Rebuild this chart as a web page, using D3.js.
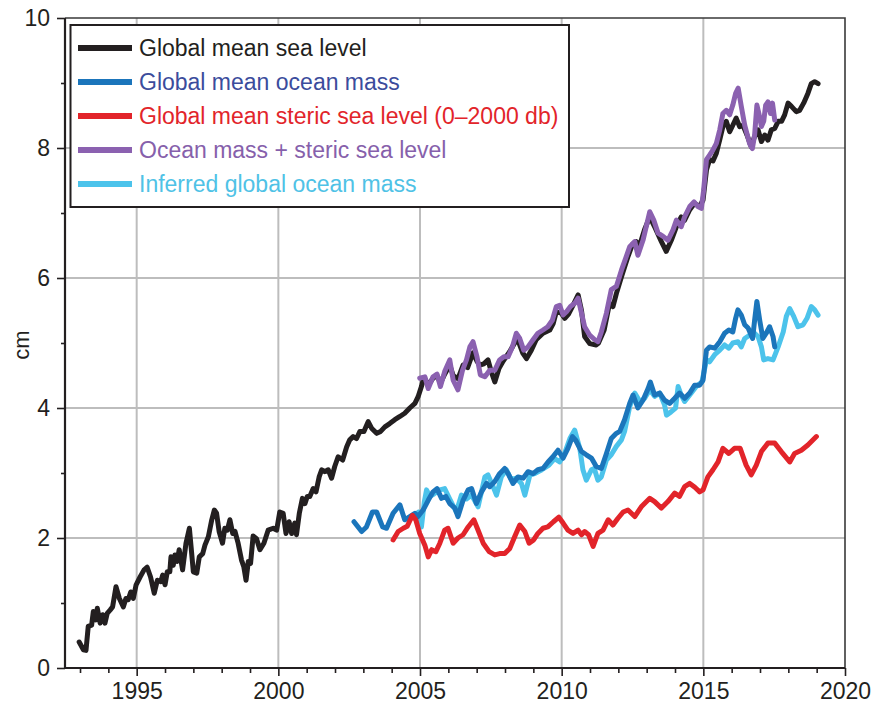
<!DOCTYPE html>
<html>
<head>
<meta charset="utf-8">
<script src="https://cdn.jsdelivr.net/npm/d3@7"></script>
<style>
  html, body { margin: 0; padding: 0; background: #fff; }
  svg { display: block; font-family: "Liberation Sans", Arial, Helvetica, sans-serif; }
</style>
</head>
<body>
<svg id="chart" width="871" height="706"></svg>
<script>
// Global mean sea level budget, cm (year, value)
const gmsl = [[1992.97,0.40],[1993.12,0.28],[1993.21,0.27],[1993.29,0.64],[1993.41,0.66],[1993.47,0.87],[1993.56,0.74],[1993.61,0.92],[1993.71,0.69],[1993.80,0.82],[1993.88,0.69],[1993.96,0.84],[1994.06,0.89],[1994.15,0.94],[1994.27,1.25],[1994.39,1.07],[1994.53,0.94],[1994.62,1.07],[1994.70,1.05],[1994.79,1.17],[1994.88,1.07],[1994.98,1.28],[1995.12,1.40],[1995.26,1.51],[1995.37,1.55],[1995.49,1.40],[1995.62,1.15],[1995.73,1.35],[1995.85,1.33],[1995.92,1.43],[1996.00,1.28],[1996.08,1.48],[1996.17,1.48],[1996.21,1.71],[1996.29,1.58],[1996.35,1.74],[1996.43,1.64],[1996.50,1.82],[1996.62,1.51],[1996.74,1.92],[1996.86,2.15],[1997.00,1.48],[1997.12,1.46],[1997.21,1.71],[1997.33,1.76],[1997.41,1.89],[1997.53,2.02],[1997.65,2.28],[1997.74,2.43],[1997.82,2.38],[1997.91,2.10],[1998.03,1.92],[1998.11,2.15],[1998.20,2.12],[1998.29,2.28],[1998.39,2.07],[1998.47,2.10],[1998.58,1.92],[1998.70,1.66],[1998.78,1.56],[1998.86,1.35],[1998.94,1.64],[1999.02,1.61],[1999.11,2.03],[1999.23,1.99],[1999.35,1.82],[1999.49,1.92],[1999.64,2.12],[1999.82,2.15],[1999.94,2.12],[2000.05,2.40],[2000.17,2.38],[2000.27,2.07],[2000.38,2.25],[2000.47,2.07],[2000.58,2.23],[2000.64,2.05],[2000.74,2.38],[2000.85,2.61],[2000.94,2.53],[2001.02,2.64],[2001.11,2.64],[2001.23,2.76],[2001.33,2.71],[2001.44,2.94],[2001.53,3.05],[2001.64,3.02],[2001.76,3.05],[2001.88,2.92],[2001.99,3.10],[2002.11,3.25],[2002.27,3.20],[2002.41,3.40],[2002.52,3.51],[2002.64,3.56],[2002.76,3.53],[2002.88,3.64],[2003.02,3.64],[2003.17,3.79],[2003.29,3.69],[2003.47,3.61],[2003.61,3.64],[2003.76,3.71],[2003.93,3.76],[2004.11,3.82],[2004.29,3.87],[2004.46,3.92],[2004.64,4.00],[2004.82,4.07],[2004.93,4.17],[2005.05,4.33],[2005.11,4.43],[2005.17,4.45],[2005.29,4.35],[2005.46,4.46],[2005.60,4.50],[2005.72,4.38],[2005.87,4.52],[2006.05,4.66],[2006.17,4.50],[2006.34,4.45],[2006.52,4.66],[2006.68,4.62],[2006.87,4.85],[2007.01,4.72],[2007.11,4.66],[2007.25,4.68],[2007.40,4.74],[2007.52,4.55],[2007.64,4.40],[2007.79,4.61],[2007.93,4.72],[2008.17,4.87],[2008.34,5.00],[2008.45,5.05],[2008.62,4.85],[2008.76,4.76],[2008.93,4.89],[2009.10,5.05],[2009.34,5.15],[2009.58,5.20],[2009.70,5.30],[2009.81,5.48],[2009.98,5.46],[2010.11,5.38],[2010.25,5.45],[2010.40,5.58],[2010.58,5.74],[2010.70,5.50],[2010.81,5.10],[2010.99,4.99],[2011.22,4.97],[2011.30,5.00],[2011.50,5.20],[2011.69,5.61],[2011.81,5.56],[2011.93,5.76],[2012.11,6.02],[2012.34,6.33],[2012.50,6.52],[2012.63,6.56],[2012.75,6.50],[2012.93,6.75],[2013.11,6.94],[2013.30,6.77],[2013.52,6.56],[2013.69,6.41],[2013.87,6.58],[2014.05,6.79],[2014.22,6.94],[2014.34,6.89],[2014.52,7.05],[2014.69,7.15],[2014.87,7.10],[2014.99,7.20],[2015.11,7.66],[2015.22,7.82],[2015.34,7.80],[2015.46,7.92],[2015.58,8.13],[2015.69,8.33],[2015.81,8.41],[2015.93,8.25],[2016.04,8.35],[2016.16,8.46],[2016.28,8.33],[2016.40,8.35],[2016.54,8.20],[2016.69,8.02],[2016.81,8.18],[2016.93,8.28],[2017.05,8.10],[2017.17,8.20],[2017.28,8.12],[2017.40,8.28],[2017.52,8.30],[2017.64,8.41],[2017.76,8.41],[2017.87,8.51],[2017.99,8.69],[2018.11,8.64],[2018.28,8.56],[2018.40,8.58],[2018.54,8.69],[2018.69,8.84],[2018.81,8.99],[2018.93,9.02],[2019.05,8.99]];

const oceanMass = [[2002.67,2.25],[2002.94,2.10],[2003.11,2.17],[2003.32,2.40],[2003.47,2.40],[2003.68,2.17],[2003.82,2.15],[2004.05,2.38],[2004.29,2.51],[2004.46,2.28],[2004.64,2.33],[2004.82,2.38],[2004.93,2.33],[2005.11,2.43],[2005.29,2.58],[2005.46,2.71],[2005.60,2.76],[2005.76,2.61],[2005.91,2.64],[2006.05,2.53],[2006.23,2.46],[2006.34,2.33],[2006.52,2.58],[2006.70,2.74],[2006.82,2.76],[2006.99,2.53],[2007.17,2.71],[2007.35,2.84],[2007.46,2.79],[2007.64,2.87],[2007.81,2.99],[2007.99,3.07],[2008.11,2.99],[2008.28,2.84],[2008.46,2.94],[2008.64,2.92],[2008.81,3.02],[2008.99,2.99],[2009.16,3.05],[2009.34,3.07],[2009.52,3.17],[2009.69,3.25],[2009.87,3.35],[2010.05,3.23],[2010.22,3.38],[2010.38,3.56],[2010.50,3.50],[2010.70,3.33],[2010.87,3.28],[2011.05,3.23],[2011.22,3.10],[2011.40,3.07],[2011.58,3.30],[2011.75,3.53],[2011.93,3.61],[2012.05,3.64],[2012.22,3.82],[2012.40,4.07],[2012.52,4.20],[2012.69,4.00],[2012.87,4.12],[2013.05,4.30],[2013.13,4.40],[2013.28,4.20],[2013.46,4.23],[2013.63,4.12],[2013.81,4.07],[2013.99,4.15],[2014.16,4.23],[2014.34,4.15],[2014.52,4.23],[2014.69,4.35],[2014.87,4.35],[2014.99,4.43],[2015.11,4.89],[2015.22,4.94],[2015.40,4.92],[2015.58,5.02],[2015.75,5.15],[2015.90,5.20],[2016.04,5.17],[2016.14,5.38],[2016.22,5.51],[2016.34,5.43],[2016.46,5.28],[2016.58,5.23],[2016.74,5.07],[2016.81,5.35],[2016.89,5.64],[2016.99,5.35],[2017.10,5.07],[2017.22,5.15],[2017.34,5.25],[2017.46,5.10],[2017.52,4.94]];

const steric = [[2004.05,1.97],[2004.23,2.10],[2004.41,2.15],[2004.55,2.18],[2004.73,2.35],[2004.85,2.28],[2004.99,2.07],[2005.17,1.89],[2005.29,1.71],[2005.41,1.82],[2005.56,1.79],[2005.70,1.92],[2005.87,2.12],[2005.99,2.15],[2006.17,1.92],[2006.34,2.00],[2006.52,2.05],[2006.70,2.17],[2006.90,2.28],[2007.05,2.12],[2007.23,1.92],[2007.44,1.79],[2007.64,1.74],[2007.81,1.76],[2007.99,1.76],[2008.17,1.84],[2008.34,2.02],[2008.52,2.20],[2008.70,2.10],[2008.85,1.92],[2009.01,1.97],[2009.16,2.07],[2009.34,2.15],[2009.51,2.17],[2009.71,2.25],[2009.90,2.32],[2010.05,2.23],[2010.22,2.12],[2010.40,2.07],[2010.58,2.12],[2010.70,2.05],[2010.81,2.10],[2010.95,2.05],[2011.11,1.87],[2011.28,2.07],[2011.46,2.12],[2011.64,2.28],[2011.81,2.20],[2011.98,2.30],[2012.17,2.40],[2012.34,2.43],[2012.58,2.33],[2012.81,2.48],[2013.11,2.61],[2013.28,2.56],[2013.52,2.46],[2013.75,2.56],[2013.99,2.69],[2014.16,2.64],[2014.34,2.79],[2014.52,2.84],[2014.70,2.78],[2014.87,2.71],[2014.99,2.74],[2015.16,2.94],[2015.34,3.05],[2015.52,3.17],[2015.69,3.38],[2015.90,3.30],[2016.10,3.38],[2016.30,3.38],[2016.51,3.12],[2016.69,2.97],[2016.87,3.12],[2017.05,3.33],[2017.28,3.46],[2017.52,3.46],[2017.75,3.33],[2018.05,3.17],[2018.22,3.30],[2018.46,3.35],[2018.69,3.43],[2018.99,3.56]];

const massPlusSteric = [[2004.99,4.46],[2005.17,4.48],[2005.29,4.30],[2005.46,4.48],[2005.60,4.52],[2005.72,4.33],[2005.87,4.56],[2006.05,4.74],[2006.17,4.43],[2006.34,4.28],[2006.50,4.58],[2006.64,4.74],[2006.76,4.94],[2006.87,5.02],[2007.01,4.79],[2007.13,4.51],[2007.29,4.48],[2007.46,4.58],[2007.64,4.58],[2007.81,4.74],[2007.96,4.79],[2008.11,4.79],[2008.26,4.94],[2008.40,5.15],[2008.52,5.07],[2008.66,4.89],[2008.81,4.94],[2008.99,5.05],[2009.16,5.15],[2009.34,5.20],[2009.51,5.25],[2009.67,5.35],[2009.81,5.56],[2009.93,5.58],[2010.05,5.43],[2010.17,5.48],[2010.31,5.56],[2010.46,5.61],[2010.58,5.69],[2010.70,5.46],[2010.81,5.25],[2010.99,5.12],[2011.17,5.05],[2011.28,5.02],[2011.40,5.17],[2011.58,5.46],[2011.75,5.82],[2011.93,5.87],[2012.11,6.12],[2012.28,6.33],[2012.40,6.48],[2012.58,6.56],[2012.69,6.35],[2012.87,6.58],[2013.11,7.02],[2013.25,6.89],[2013.40,6.69],[2013.58,6.64],[2013.75,6.58],[2013.93,6.74],[2014.05,6.89],[2014.22,6.79],[2014.34,6.94],[2014.52,7.10],[2014.67,7.17],[2014.81,7.10],[2014.93,7.07],[2015.01,7.35],[2015.11,7.82],[2015.22,7.89],[2015.34,7.97],[2015.46,8.07],[2015.58,8.28],[2015.69,8.53],[2015.81,8.58],[2015.93,8.51],[2016.04,8.66],[2016.14,8.84],[2016.23,8.92],[2016.34,8.64],[2016.46,8.35],[2016.63,8.07],[2016.73,7.99],[2016.81,8.20],[2016.89,8.66],[2016.96,8.53],[2017.05,8.33],[2017.13,8.41],[2017.20,8.66],[2017.28,8.71],[2017.37,8.53],[2017.44,8.69],[2017.52,8.43]];

const inferredMass = [[2004.95,2.40],[2005.05,2.17],[2005.15,2.55],[2005.23,2.74],[2005.35,2.64],[2005.50,2.68],[2005.70,2.74],[2005.87,2.76],[2006.05,2.60],[2006.28,2.40],[2006.46,2.66],[2006.64,2.60],[2006.82,2.66],[2007.05,2.48],[2007.29,2.94],[2007.40,2.97],[2007.58,2.79],[2007.70,2.66],[2007.87,2.94],[2008.05,3.05],[2008.22,2.90],[2008.40,2.92],[2008.58,2.84],[2008.70,2.66],[2008.88,2.97],[2009.05,2.99],[2009.30,3.05],[2009.55,3.12],[2009.75,3.22],[2009.93,3.17],[2010.10,3.30],[2010.29,3.53],[2010.46,3.66],[2010.64,3.38],[2010.75,3.05],[2010.87,2.89],[2011.05,3.05],[2011.15,3.07],[2011.28,2.89],[2011.40,2.94],[2011.58,3.20],[2011.75,3.28],[2011.93,3.41],[2012.11,3.51],[2012.22,3.64],[2012.40,4.02],[2012.58,4.23],[2012.76,4.10],[2012.93,4.15],[2013.11,4.28],[2013.28,4.18],[2013.46,4.23],[2013.63,4.05],[2013.70,3.89],[2013.86,3.94],[2014.02,4.00],[2014.11,4.33],[2014.22,4.20],[2014.34,4.10],[2014.52,4.20],[2014.75,4.33],[2014.95,4.40],[2015.11,4.74],[2015.22,4.71],[2015.40,4.82],[2015.58,4.89],[2015.75,4.97],[2015.90,4.92],[2016.04,5.00],[2016.22,5.02],[2016.34,4.94],[2016.46,5.07],[2016.63,5.12],[2016.81,5.15],[2016.93,5.10],[2017.05,4.94],[2017.13,4.74],[2017.28,4.76],[2017.46,4.74],[2017.64,4.94],[2017.82,5.17],[2017.93,5.41],[2018.05,5.53],[2018.19,5.41],[2018.34,5.25],[2018.52,5.28],[2018.66,5.38],[2018.81,5.56],[2018.93,5.51],[2019.05,5.43]];

const yearTicks = [1995, 2000, 2005, 2010, 2015, 2020];
const yearMinorTicks = [1993, 1994, 1996, 1997, 1998, 1999, 2001, 2002, 2003, 2004, 2006, 2007, 2008, 2009, 2011, 2012, 2013, 2014, 2016, 2017, 2018, 2019];
const cmTicks = [0, 2, 4, 6, 8, 10];
const cmMinorTicks = [1, 3, 5, 7, 9];

const legendLabels = ["Global mean sea level", "Global mean ocean mass", "Global mean steric sea level (0\u20132000 db)", "Ocean mass + steric sea level", "Inferred global ocean mass"];
const lineColors = ["#231f20", "#1b75bb", "#e2242a", "#8b61b0", "#4cc3eb"];
const textColors = ["#231f20", "#3b4c9c", "#e2242a", "#8660ab", "#4fc2e6"];

const svg = d3.select("#chart");
const plot = { left: 65, right: 845, top: 18, bottom: 668 };
const x = d3.scaleLinear().domain([1992.47, 2020]).range([plot.left, plot.right]);
const y = d3.scaleLinear().domain([0, 10]).range([plot.bottom, plot.top]);
const fontSize = "23px";

// grid
const grid = svg.append("g");
grid.selectAll("line.gx").data(yearTicks.filter(t => t < 2020)).join("line")
  .attr("x1", d => x(d)).attr("x2", d => x(d)).attr("y1", plot.top).attr("y2", plot.bottom)
  .attr("stroke", "#bdbdbd").attr("stroke-width", 2);
grid.selectAll("line.gy").data(cmTicks.filter(t => t > 0 && t < 10)).join("line")
  .attr("x1", plot.left).attr("x2", plot.right).attr("y1", d => y(d)).attr("y2", d => y(d))
  .attr("stroke", "#bdbdbd").attr("stroke-width", 2);

// frame top/right
svg.append("path").attr("d", `M${plot.left},${plot.top}H${plot.right}V${plot.bottom}`)
  .attr("fill", "none").attr("stroke", "#3a3a3a").attr("stroke-width", 1.6);

// axes
const styleAxis = g => {
  g.select(".domain").remove();
  g.selectAll("line").attr("stroke", "#231f20").attr("stroke-width", 1.6);
  g.selectAll("text").attr("fill", "#231f20").style("font-size", fontSize)
    .style("font-family", '"Liberation Sans", Arial, sans-serif');
};
svg.append("g").attr("transform", `translate(0,${plot.bottom})`)
  .call(d3.axisBottom(x).tickValues(yearMinorTicks).tickSize(5).tickFormat(""))
  .call(styleAxis);
svg.append("g").attr("transform", `translate(0,${plot.bottom})`)
  .call(d3.axisBottom(x).tickValues(yearTicks).tickSize(8).tickPadding(7).tickFormat(d3.format("d")))
  .call(styleAxis);
svg.append("g").attr("transform", `translate(${plot.left},0)`)
  .call(d3.axisLeft(y).tickValues(cmMinorTicks).tickSize(4).tickFormat(""))
  .call(styleAxis);
svg.append("g").attr("transform", `translate(${plot.left},0)`)
  .call(d3.axisLeft(y).tickValues(cmTicks).tickSize(8).tickPadding(7).tickFormat(d3.format("d")))
  .call(styleAxis);
svg.append("path").attr("d", `M${plot.left},${plot.top}V${plot.bottom}H${plot.right}`)
  .attr("fill", "none").attr("stroke", "#231f20").attr("stroke-width", 2.2);

svg.append("text").attr("transform", "translate(29,345) rotate(-90)")
  .attr("text-anchor", "middle").style("font-size", "22px").attr("fill", "#231f20").text("cm");

// data lines
const line = d3.line().x(d => x(d[0])).y(d => y(d[1]));
const series = [
  { data: gmsl, color: lineColors[0] },
  { data: inferredMass, color: lineColors[4] },
  { data: oceanMass, color: lineColors[1] },
  { data: steric, color: lineColors[2] },
  { data: massPlusSteric, color: lineColors[3] }
];
svg.append("g").selectAll("path").data(series).join("path")
  .attr("d", d => line(d.data))
  .attr("fill", "none").attr("stroke", d => d.color)
  .attr("stroke-width", 5).attr("stroke-linejoin", "round").attr("stroke-linecap", "round");

// legend
const lg = svg.append("g");
lg.append("rect").attr("x", 70.5).attr("y", 25).attr("width", 498.5).attr("height", 182)
  .attr("fill", "#fff").attr("stroke", "#231f20").attr("stroke-width", 2);
const rows = lg.selectAll("g.row").data(legendLabels).join("g")
  .attr("transform", (d, i) => `translate(0,${48 + i * 34})`);
rows.append("line").attr("x1", 78).attr("x2", 132).attr("y1", 0).attr("y2", 0)
  .attr("stroke", (d, i) => lineColors[i]).attr("stroke-width", 6);
rows.append("text").attr("x", 139).attr("y", 8).style("font-size", fontSize)
  .attr("fill", (d, i) => textColors[i]).text(d => d);
</script>
</body>
</html>
